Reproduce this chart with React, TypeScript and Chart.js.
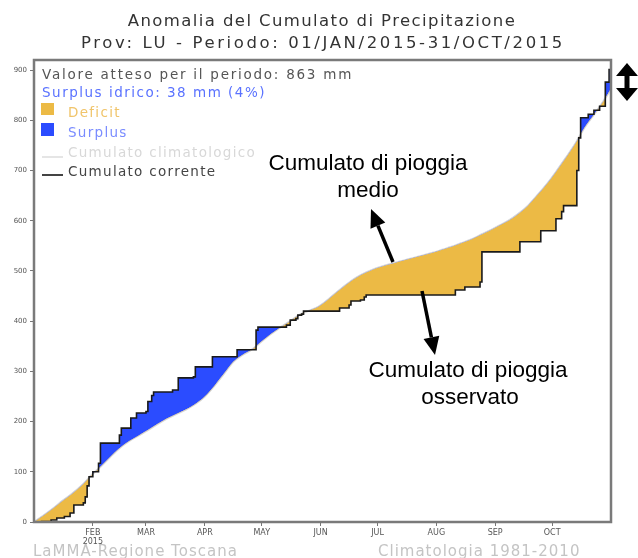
import React, { useEffect, useRef } from "react";
import { Chart, registerables } from "chart.js";

Chart.register(...registerables);

// Observed cumulative rainfall (mm): day of year (0 = 1 Jan) at which the total steps to the value
const obsDays = [0, 4, 9, 12, 16, 19, 21, 26, 27, 28, 29, 31, 34, 35, 45, 46, 51, 54, 59, 60, 62, 63, 73, 76, 84, 85, 94, 107, 117, 118, 133, 135, 138, 139, 141, 142, 161, 166, 167, 172, 174, 175, 222, 227, 235, 236, 256, 267, 275, 278, 279, 286, 287, 288, 292, 295, 298, 301, 303, 304];
const obsValues = [0, 1, 4, 8, 11, 18, 34, 38, 50, 72, 90, 100, 117, 157, 173, 187, 207, 217, 220, 240, 252, 259, 263, 287, 289, 309, 329, 343, 382, 388, 392, 402, 405, 412, 414, 420, 426, 432, 440, 442, 448, 452, 462, 468, 478, 538, 558, 580, 604, 618, 630, 700, 765, 805, 812, 820, 828, 876, 901, 901];

// Climatological mean cumulative rainfall (mm)
const climDays = [0, 5, 10, 15, 20, 25, 30, 35, 40, 45, 50, 55, 60, 65, 70, 75, 80, 85, 90, 95, 100, 105, 110, 115, 120, 125, 130, 135, 140, 145, 150, 155, 160, 165, 170, 175, 180, 185, 190, 195, 200, 205, 210, 215, 220, 225, 230, 235, 240, 245, 250, 255, 260, 265, 270, 275, 280, 285, 290, 295, 300, 304];
const climValues = [0, 13, 27, 42, 56, 72, 92, 110, 129, 147, 161, 172, 183, 195, 206, 215, 224, 235, 250, 271, 295, 319, 333, 344, 360, 375, 388, 400, 413, 421, 429, 443, 459, 474, 487, 497, 505, 511, 516, 521, 526, 531, 536, 542, 548, 555, 562, 571, 580, 590, 600, 613, 629, 650, 672, 697, 724, 752, 785, 811, 838, 863];

const monthTickDays = [31, 59, 90, 120, 151, 181, 212, 243, 273];
const monthTickLabels = ["FEB", "MAR", "APR", "MAY", "JUN", "JUL", "AUG", "SEP", "OCT"];
const yTickValues = [0, 100, 200, 300, 400, 500, 600, 700, 800, 900];

const titleLines = ["Anomalia del Cumulato di Precipitazione", "Prov: LU - Periodo: 01/JAN/2015-31/OCT/2015"];
const expectedTotal = 863;
const surplusMm = 38;
const surplusPct = 4;

const YELLOW = "#ecba45";
const BLUE = "#2b4cff";
const HF = "'DejaVu Sans', sans-serif";
const AF = "'Liberation Sans', Arial, sans-serif";

function arrow(ctx: CanvasRenderingContext2D, x1: number, y1: number, x2: number, y2: number) {
  const ang = Math.atan2(y2 - y1, x2 - x1);
  const hl = 18, hw = 8;
  const bx = x2 - hl * Math.cos(ang), by = y2 - hl * Math.sin(ang);
  ctx.strokeStyle = "#000";
  ctx.lineWidth = 3.5;
  ctx.beginPath();
  ctx.moveTo(x1, y1);
  ctx.lineTo(bx, by);
  ctx.stroke();
  ctx.fillStyle = "#000";
  ctx.beginPath();
  ctx.moveTo(x2, y2);
  ctx.lineTo(bx + hw * Math.sin(ang), by - hw * Math.cos(ang));
  ctx.lineTo(bx - hw * Math.sin(ang), by + hw * Math.cos(ang));
  ctx.closePath();
  ctx.fill();
}

const overlay = {
  id: "overlay",
  afterDraw(chart: any) {
    const ctx: CanvasRenderingContext2D = chart.ctx;
    const a = chart.chartArea;
    ctx.save();
    // frame
    ctx.strokeStyle = "#7a7a7a";
    ctx.lineWidth = 2.5;
    ctx.strokeRect(a.left, a.top, a.right - a.left, a.bottom - a.top);

    // title
    ctx.fillStyle = "#333";
    ctx.font = `16.5px ${HF}`;
    ctx.textAlign = "center";
    ctx.textBaseline = "alphabetic";
    (ctx as any).letterSpacing = "1.4px";
    ctx.fillText(titleLines[0], 322, 26);
    (ctx as any).letterSpacing = "2.6px";
    ctx.fillText(titleLines[1], 323, 48);

    // legend
    ctx.textAlign = "left";
    ctx.font = `13.5px ${HF}`;
    const lx = a.left + 8;
    ctx.fillStyle = "#555";
    (ctx as any).letterSpacing = "1.75px";
    ctx.fillText(`Valore atteso per il periodo: ${expectedTotal} mm`, lx, 79);
    (ctx as any).letterSpacing = "1.5px";
    ctx.fillStyle = "#5a72ff";
    ctx.fillText(`Surplus idrico: ${surplusMm} mm (${surplusPct}%)`, lx, 97);
    (ctx as any).letterSpacing = "1.3px";
    ctx.fillStyle = YELLOW;
    ctx.fillRect(lx - 1, 103, 13, 12);
    ctx.fillStyle = "#f0c46a";
    ctx.fillText("Deficit", lx + 26, 117);
    ctx.fillStyle = BLUE;
    ctx.fillRect(lx - 1, 123, 13, 13);
    ctx.fillStyle = "#7a8cff";
    ctx.fillText("Surplus", lx + 26, 137);
    ctx.strokeStyle = "#dcdcdc";
    ctx.lineWidth = 1.5;
    ctx.beginPath();
    ctx.moveTo(lx, 157);
    ctx.lineTo(lx + 21, 157);
    ctx.stroke();
    ctx.fillStyle = "#d8d8d8";
    ctx.fillText("Cumulato climatologico", lx + 26, 157);
    ctx.strokeStyle = "#444";
    ctx.lineWidth = 2;
    ctx.beginPath();
    ctx.moveTo(lx, 175);
    ctx.lineTo(lx + 21, 175);
    ctx.stroke();
    ctx.fillStyle = "#444";
    ctx.fillText("Cumulato corrente", lx + 26, 176);

    // footer
    (ctx as any).letterSpacing = "1px";
    ctx.font = `15px ${HF}`;
    ctx.fillStyle = "#c4c4c4";
    ctx.fillText("LaMMA-Regione Toscana", 33, 556);
    ctx.fillText("Climatologia 1981-2010", 378, 556);

    // annotations
    (ctx as any).letterSpacing = "0px";
    ctx.font = `22.5px ${AF}`;
    ctx.fillStyle = "#000";
    ctx.textAlign = "center";
    ctx.fillText("Cumulato di pioggia", 368, 170);
    ctx.fillText("medio", 368, 197);
    ctx.fillText("Cumulato di pioggia", 468, 377);
    ctx.fillText("osservato", 470, 404);
    arrow(ctx, 393, 262, 371, 209);
    arrow(ctx, 422, 291, 435, 355);

    // double-headed arrow at right
    const cx = 627;
    ctx.fillStyle = "#000";
    ctx.beginPath();
    ctx.moveTo(cx, 63);
    ctx.lineTo(cx + 11, 76);
    ctx.lineTo(cx - 11, 76);
    ctx.closePath();
    ctx.fill();
    ctx.beginPath();
    ctx.moveTo(cx, 101);
    ctx.lineTo(cx + 11, 88);
    ctx.lineTo(cx - 11, 88);
    ctx.closePath();
    ctx.fill();
    ctx.fillRect(cx - 2.5, 75, 5, 14);
    ctx.restore();
  },
};

export default function App() {
  const ref = useRef<HTMLCanvasElement | null>(null);
  useEffect(() => {
    if (!ref.current) return;
    const obs = obsDays.map((d, i) => ({ x: d, y: obsValues[i] }));
    const clim = climDays.map((d, i) => ({ x: d, y: climValues[i] }));
    const chart = new Chart(ref.current, {
      type: "line",
      data: {
        datasets: [
          {
            label: "Cumulato corrente",
            data: obs,
            borderColor: "#1a1a1a",
            borderWidth: 1.6,
            pointRadius: 0,
            stepped: "before",
            fill: { target: 1, above: BLUE, below: YELLOW },
          } as any,
          {
            label: "Cumulato climatologico",
            data: clim,
            borderColor: "#d6d6d6",
            borderWidth: 2,
            pointRadius: 0,
            cubicInterpolationMode: "monotone",
            fill: false,
          },
        ],
      },
      options: {
        responsive: false,
        animation: false,
        layout: { padding: { top: 60, right: 27, bottom: 0, left: 0 } },
        plugins: { legend: { display: false }, title: { display: false }, tooltip: { enabled: false } },
        scales: {
          x: {
            type: "linear",
            min: 0,
            max: 304,
            afterBuildTicks: (s: any) => {
              s.ticks = monthTickDays.map((v) => ({ value: v }));
            },
            afterFit: (s: any) => {
              s.height = 36;
            },
            ticks: {
              autoSkip: false,
              maxRotation: 0,
              padding: 2,
              font: { size: 8, family: HF },
              color: "#555",
              callback: (v: any) => {
                const i = monthTickDays.indexOf(Number(v));
                if (i < 0) return "";
                return i === 0 ? [monthTickLabels[i], "2015"] : monthTickLabels[i];
              },
            },
            grid: { drawOnChartArea: false, drawTicks: true, tickLength: 4, color: "#777" },
            border: { display: false },
          },
          y: {
            min: 0,
            max: 920,
            afterBuildTicks: (s: any) => {
              s.ticks = yTickValues.map((v) => ({ value: v }));
            },
            afterFit: (s: any) => {
              s.width = 34;
            },
            ticks: { padding: 3, font: { size: 7, family: HF }, color: "#555" },
            grid: { drawOnChartArea: false, drawTicks: true, tickLength: 4, color: "#777" },
            border: { display: false },
          },
        },
      },
      plugins: [overlay],
    });
    return () => chart.destroy();
  }, []);
  return (
    <div style={{ position: "absolute", left: 0, top: 0, width: 638, height: 558, background: "#fff" }}>
      <canvas ref={ref} width={638} height={558} />
    </div>
  );
}
